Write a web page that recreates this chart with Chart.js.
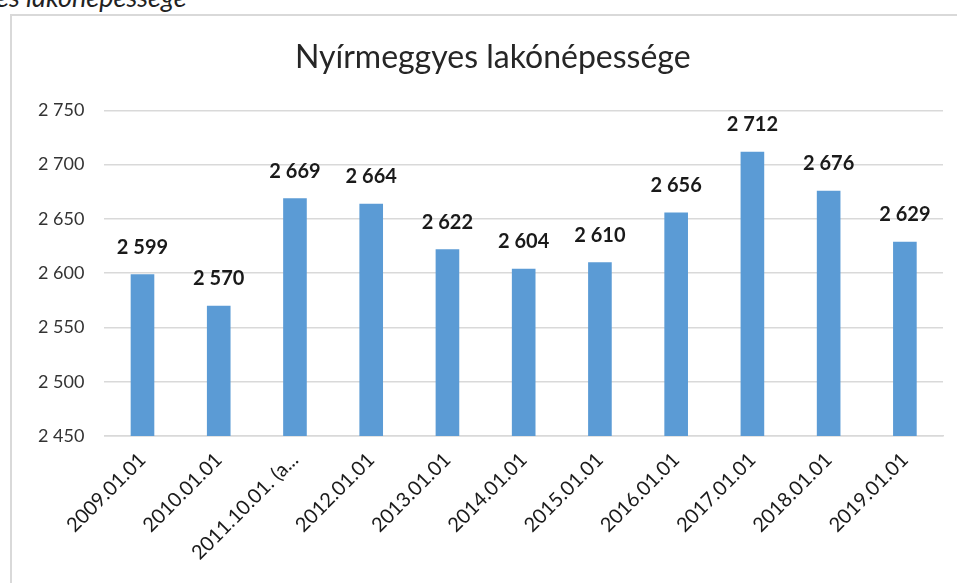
<!DOCTYPE html>
<html>
<head>
<meta charset="utf-8">
<script src="https://cdn.jsdelivr.net/npm/chart.js@4.4.1/dist/chart.umd.min.js"></script>
<style>
  body { margin: 0; background: #fff; width: 957px; height: 583px; overflow: hidden; position: relative; }
  #caption { position: absolute; left: -4px; top: -20px; font: italic 27px Lato, "Open Sans", sans-serif; color: #222; white-space: nowrap; }
  #frame { position: absolute; left: 10px; top: 14px; width: 960px; height: 580px; border-left: 2px solid #d9d9d9; border-top: 2px solid #d9d9d9; box-sizing: border-box; }
  #chartDiv { position: absolute; left: 12px; top: 16px; }
</style>
</head>
<body>
<div id="caption">es lakónépessége</div>
<div id="frame"></div>
<canvas id="chartDiv" width="967" height="567"></canvas>
<script>
const dates = ["2009.01.01", "2010.01.01", "2011.10.01. (a...", "2012.01.01", "2013.01.01", "2014.01.01",
  "2015.01.01", "2016.01.01", "2017.01.01", "2018.01.01", "2019.01.01"];
const population = [2599, 2570, 2669, 2664, 2622, 2604, 2610, 2656, 2712, 2676, 2629];
const yMin = 2450, yMax = 2750, yStep = 50;

const fmt = (n) => n.toString().replace(/\B(?=(\d{3})+(?!\d))/g, " ");

// draws the bold numbers above each bar
const barLabels = {
  id: "barLabels",
  afterDatasetsDraw(chart) {
    const ctx = chart.ctx;
    const meta = chart.getDatasetMeta(0);
    ctx.save();
    ctx.font = "bold 20px Lato, sans-serif";
    ctx.fillStyle = "#1a1a1a";
    ctx.textAlign = "center";
    ctx.textBaseline = "middle";
    meta.data.forEach((bar, i) => {
      ctx.fillText(fmt(population[i]), bar.x, bar.y - 27);
    });
    ctx.restore();
  },
};

const ctx = document.getElementById("chartDiv");
const chart = new Chart(ctx, {
  type: "bar",
  data: {
    labels: dates,
    datasets: [
      {
        label: "Lakónépesség",
        data: population,
        backgroundColor: "#5b9bd5",
        borderWidth: 0,
        categoryPercentage: 1,
        barPercentage: 0.31,
      },
    ],
  },
  options: {
    responsive: false,
    animation: false,
    layout: { padding: { left: 6, right: 36, top: 12, bottom: 0 } },
    plugins: {
      legend: { display: false },
      tooltip: { enabled: false },
      title: {
        display: true,
        // leading nbsp nudges the centred title a bit to the right
        text: "\u00a0\u00a0\u00a0Nyírmeggyes lakónépessége",
        color: "#262626",
        font: { family: "Lato, sans-serif", size: 32, weight: "normal" },
        padding: { top: 10, bottom: 34 },
      },
    },
    scales: {
      y: {
        min: yMin,
        max: yMax,
        border: { display: false },
        grid: { color: "#d9d9d9", lineWidth: 1.5, drawTicks: false },
        ticks: {
          stepSize: yStep,
          padding: 20,
          color: "#333",
          font: { family: "Lato, sans-serif", size: 18 },
          callback: (v) => fmt(v),
        },
      },
      x: {
        afterFit: (scale) => {
          scale.height = 147;
        },
        border: { color: "#d9d9d9", width: 1.5 },
        grid: { display: false },
        ticks: {
          minRotation: 45,
          maxRotation: 45,
          padding: 4,
          color: "#1a1a1a",
          font: { family: "Lato, sans-serif", size: 20 },
        },
      },
    },
  },
  plugins: [barLabels],
});
</script>
</body>
</html>
